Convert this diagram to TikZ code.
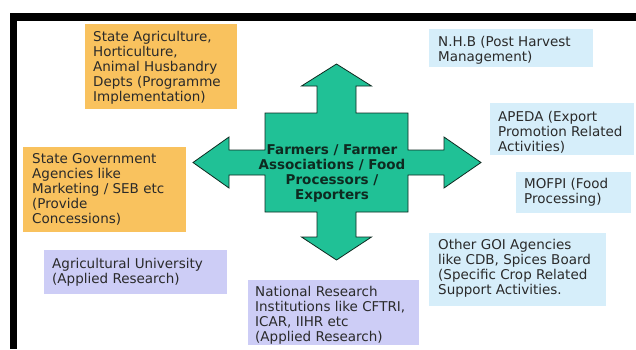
\documentclass[tikz,border=0pt]{standalone}
\usepackage{fontspec}
\setmainfont{DejaVu Sans}
\definecolor{boxorange}{HTML}{F9C25E}
\definecolor{boxblue}{HTML}{D6EEFA}
\definecolor{boxlilac}{HTML}{CDCDF6}
\definecolor{hubgreen}{HTML}{20C196}
\definecolor{hubline}{HTML}{0E2A20}
\definecolor{txtgray}{HTML}{2A2A2A}
\begin{document}
\begin{tikzpicture}[x=1pt,y=-1pt,
  lbl/.style={anchor=north west, align=left, inner sep=0pt, text=txtgray,
    font=\fontsize{13.5}{15}\selectfont},
  hublbl/.style={anchor=north, align=center, inner sep=0pt, text=hubline,
    font=\fontsize{13.5}{15}\selectfont\bfseries},
  orangebox/.style={fill=boxorange},
  bluebox/.style={fill=boxblue},
  lilacbox/.style={fill=boxlilac},
  hub/.style={fill=hubgreen, draw=hubline, line width=0.8pt, line join=miter}]
\useasboundingbox (0,0) rectangle (636,349);
\fill[white] (0,0) rectangle (636,349);

% page frame
\fill[black] (10,13) rectangle (636,21);
\fill[black] (10,13) rectangle (17,349);

% four-way arrow in the middle
\draw[hub] (336.5,64) -- (371.5,86) -- (356,86) -- (356,113) -- (408,113)
  -- (408,150) -- (444,150) -- (444,137) -- (481,162.5) -- (444,188)
  -- (444,175) -- (408,175) -- (408,212) -- (356,212) -- (356,237)
  -- (371.5,237) -- (336.5,260) -- (301.5,237) -- (317,237) -- (317,212)
  -- (265,212) -- (265,175) -- (229,175) -- (229,188) -- (193,162.5)
  -- (229,137) -- (229,150) -- (265,150) -- (265,113) -- (317,113)
  -- (317,86) -- (301.5,86) -- cycle;
\node[hublbl] (hub) at (332,144.2)
  {Farmers / Farmer\\Associations / Food\\Processors /\\Exporters};

% state level bodies
\fill[orangebox] (85,24) rectangle (237,109);
\node[lbl] (stateagri) at (93,30.7)
  {State Agriculture,\\Horticulture,\\Animal Husbandry\\Depts (Programme\\Implementation)};
\fill[orangebox] (23,147) rectangle (186,232);
\node[lbl] (stategov) at (32,153.2)
  {State Government\\Agencies like\\Marketing / SEB etc\\(Provide\\Concessions)};

% research bodies
\fill[lilacbox] (44,250) rectangle (227,294);
\node[lbl] (agriuni) at (52,257.7)
  {Agricultural University\\(Applied Research)};
\begin{scope}
  \clip (248,280) rectangle (419,345);
  \fill[lilacbox] (248,280) rectangle (419,345);
  \node[lbl] (natres) at (255,285.7)
    {National Research\\Institutions like CFTRI,\\ICAR, IIHR etc\\(Applied Research)};
\end{scope}

% central agencies
\fill[bluebox] (429,29) rectangle (593,67);
\node[lbl] (nhb) at (438,35.7)
  {N.H.B (Post Harvest\\Management)};
\fill[bluebox] (490,103) rectangle (634,155);
\node[lbl] (apeda) at (498,110.7)
  {APEDA (Export\\Promotion Related\\Activities)};
\fill[bluebox] (516,172) rectangle (631,213);
\node[lbl] (mofpi) at (524,177.7)
  {MOFPI (Food\\Processing)};
\fill[bluebox] (429,233) rectangle (606,306);
\node[lbl] (goi) at (438,238.7)
  {Other GOI Agencies\\like CDB, Spices Board\\(Specific Crop Related\\Support Activities.};
\end{tikzpicture}
\end{document}
